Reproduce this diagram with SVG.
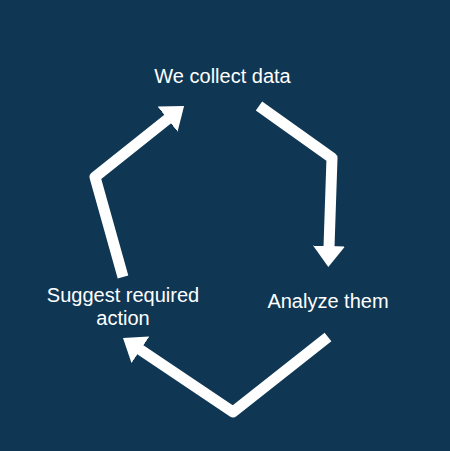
<svg xmlns="http://www.w3.org/2000/svg" width="450" height="451" viewBox="0 0 450 451">
<defs>
<style>
.lbl{font-family:"Liberation Sans",Arial,sans-serif;font-size:20px;fill:#ffffff;text-anchor:middle}
.arr{fill:none;stroke:#ffffff;stroke-width:11;stroke-linejoin:round;stroke-linecap:butt}
</style>
<marker id="head" markerUnits="userSpaceOnUse" markerWidth="21" markerHeight="32" viewBox="0 0 21 32" refX="1" refY="16" orient="auto">
<path d="M0,0 L21,16 L0,32 Z" fill="#ffffff"/>
</marker>
</defs>
<rect width="450" height="451" fill="#0f3754"/>
<g id="connectors">
<polyline class="arr" points="259,106 332,158 329,247" marker-end="url(#head)"/>
<polyline class="arr" points="328,337 233,412 139.6,349.2" marker-end="url(#head)"/>
<polyline class="arr" points="123,277 95,177 168.4,118.5" marker-end="url(#head)"/>
</g>
<g id="collect"><text class="lbl" x="222.5" y="83">We collect data</text></g>
<g id="analyze"><text class="lbl" x="328" y="308">Analyze them</text></g>
<g id="suggest"><text class="lbl" x="123" y="302">Suggest required</text><text class="lbl" x="123" y="325">action</text></g>
</svg>
